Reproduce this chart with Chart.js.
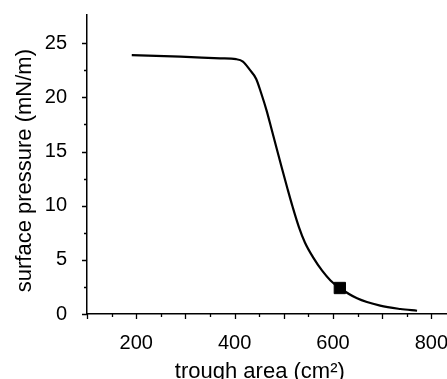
<!DOCTYPE html>
<html>
<head>
<meta charset="utf-8">
<script src="https://cdn.jsdelivr.net/npm/chart.js@4.4.0/dist/chart.umd.min.js"></script>
<style>
  html, body { margin: 0; padding: 0; background: #fff; overflow: hidden; }
  #wrap { position: relative; width: 470px; height: 392px; }
</style>
</head>
<body>
<div id="wrap"><canvas id="isotherm"></canvas></div>
<script>
// isotherm
const troughArea = [191, 290, 371, 403, 417, 430, 444, 454, 465, 475, 486, 496, 508, 518, 531, 543, 560, 578, 595, 614, 649, 696, 737, 771];
const surfacePressure = [23.9, 23.75, 23.6, 23.52, 23.3, 22.6, 21.7, 20.4, 18.8, 17.1, 15.2, 13.5, 11.5, 9.9, 8.0, 6.6, 5.2, 4.0, 3.1, 2.4, 1.45, 0.77, 0.46, 0.3];

// highlighted point
const markerArea = [614];
const markerPressure = [2.4];

const xLabels = [200, 400, 600, 800];
const yLabels = [0, 5, 10, 15, 20, 25];
const xMinorTicks = [100, 150, 200, 250, 300, 350, 400, 450, 500, 550, 600, 650, 700, 750, 800];
const yMinorTicks = [0, 2.5, 5, 7.5, 10, 12.5, 15, 17.5, 20, 22.5, 25];

const font = '"Liberation Sans", Arial, sans-serif';

// origin-style tick marks: long at majors, short in between
const tickMarks = {
    id: 'tickMarks',
    afterDraw(chart) {
        const ctx = chart.ctx;
        const xs = chart.scales.x, ys = chart.scales.y;
        const area = chart.chartArea;
        ctx.save();
        ctx.strokeStyle = '#000';
        ctx.lineWidth = 1.3;
        ctx.beginPath();
        xMinorTicks.forEach(v => {
            const px = Math.round(xs.getPixelForValue(v)) + 0.5;
            const len = v % 100 === 0 ? 5 : 3;
            ctx.moveTo(px, area.bottom);
            ctx.lineTo(px, area.bottom + len);
        });
        yMinorTicks.forEach(v => {
            const py = Math.round(ys.getPixelForValue(v)) + 0.5;
            const len = v % 5 === 0 ? 5 : 3;
            ctx.moveTo(area.left, py);
            ctx.lineTo(area.left - len, py);
        });
        ctx.stroke();
        ctx.restore();
    }
};

const config = {
    type: 'line',
    data: {
        datasets: [
            {
                data: troughArea.map((a, i) => ({ x: a, y: surfacePressure[i] })),
                borderColor: '#000',
                borderWidth: 2.2,
                pointRadius: 0,
                cubicInterpolationMode: 'monotone',
                fill: false
            },
            {
                data: markerArea.map((a, i) => ({ x: a, y: markerPressure[i] })),
                showLine: false,
                pointStyle: 'rect',
                pointRadius: 8,
                pointBackgroundColor: '#000',
                pointBorderColor: '#000',
                pointBorderWidth: 1
            }
        ]
    },
    options: {
        responsive: true,
        maintainAspectRatio: false,
        animation: false,
        events: [],
        layout: { padding: { left: 0, top: 15, right: 19, bottom: 0 } },
        plugins: {
            legend: { display: false },
            tooltip: { enabled: false }
        },
        scales: {
            x: {
                type: 'linear',
                min: 100,
                max: 840,
                grid: { display: false },
                border: { display: true, color: '#000', width: 1.5 },
                afterBuildTicks: scale => { scale.ticks = xLabels.map(v => ({ value: v })); },
                afterFit: scale => {
                    scale.height = 78;
                    scale.paddingLeft = 0;
                    scale.paddingRight = 0;
                },
                ticks: {
                    color: '#000',
                    padding: 9,
                    maxRotation: 0,
                    font: { family: font, size: 20 }
                },
                title: {
                    display: true,
                    text: 'trough area (cm²)   ',
                    color: '#000',
                    padding: { top: 0, bottom: 7 },
                    font: { family: font, size: 22 }
                }
            },
            y: {
                min: 0,
                max: 27.6,
                grid: { display: false },
                border: { display: true, color: '#000', width: 1.5 },
                afterBuildTicks: scale => { scale.ticks = yLabels.map(v => ({ value: v })); },
                afterFit: scale => {
                    scale.width = 87;
                    scale.paddingTop = 0;
                    scale.paddingBottom = 0;
                },
                ticks: {
                    color: '#000',
                    padding: 12,
                    font: { family: font, size: 20 }
                },
                title: {
                    display: true,
                    text: 'surface pressure (mN/m)  ',
                    color: '#000',
                    padding: { top: 12, bottom: 0 },
                    font: { family: font, size: 22 }
                }
            }
        }
    },
    plugins: [tickMarks]
};

const isothermChart = new Chart(document.getElementById('isotherm'), config);
</script>
</body>
</html>
